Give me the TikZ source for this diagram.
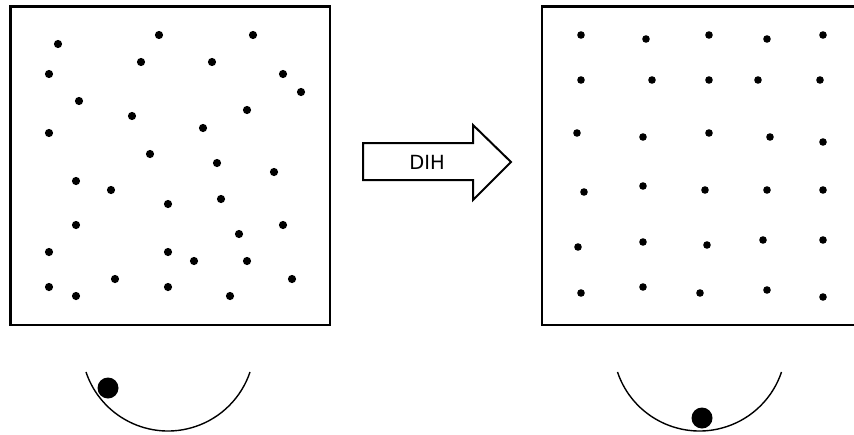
\documentclass[tikz,border=0pt]{standalone}
\usepackage{fontspec}
\newfontfamily\labelfont{DejaVu Sans}
\begin{document}
\begin{tikzpicture}[x=1pt,y=-1pt,
  frame/.style={draw=black,line width=2.8pt},
  dotL/.style={fill=black},
  bowl/.style={draw=black,line width=1.4pt},
  ball/.style={fill=black},
  bigarrow/.style={draw=black,line width=2pt,fill=white,line join=miter}]
\useasboundingbox (0,0) rectangle (854,434);
\clip (0,0) rectangle (854,434);
% left box
\draw[frame] (10.5,6.5) rectangle (330,325);
% right box (right side off-picture)
\draw[frame] (542,6.5) rectangle (870,325);
% left random dots
\foreach \x/\y in {58/44,159/35,253/35,49/74,141/62,212/62,283/74,301/92,79/101,132/116,247/110,49/133,203/128,150/154,217/163,274/172,76/181,111/190,168/204,221/199,76/225,283/225,239/234,49/252,168/252,194/261,247/261,115/279,292/279,49/287,168/287,76/296,230/296}
  \fill[dotL] (\x,\y) circle[radius=4.1];
% right ordered dots
\foreach \x/\y in {581/35,646/39,709/35,767/39,823/35,581/80,652/80,709/80,758/80,820/80,577/133,643/137,709/133,770/137,823/142,584/192,643/186,705/190,767/190,823/190,578/247,643/242,707/245,763/240,823/240,581/293,643/287,700/293,767/290,823/297}
  \fill[dotL] (\x,\y) circle[radius=3.8];
% arrow
\draw[bigarrow] (363,143) -- (473,143) -- (473,125) -- (511,162) -- (473,200) -- (473,180) -- (363,180) -- cycle;
\node[font=\labelfont\fontsize{19.5}{21}\selectfont,inner sep=0pt] (dih) at (427,162) {DIH};
% bowls
\draw[bowl] (168,344.5) ++(161.5:86.5) arc[start angle=161.5,end angle=18.5,radius=86.5];
\fill[ball] (108,388) circle[radius=10.5];
\draw[bowl] (699.5,344.5) ++(161.5:86.5) arc[start angle=161.5,end angle=18.5,radius=86.5];
\fill[ball] (702,418) circle[radius=10.5];
\end{tikzpicture}
\end{document}
